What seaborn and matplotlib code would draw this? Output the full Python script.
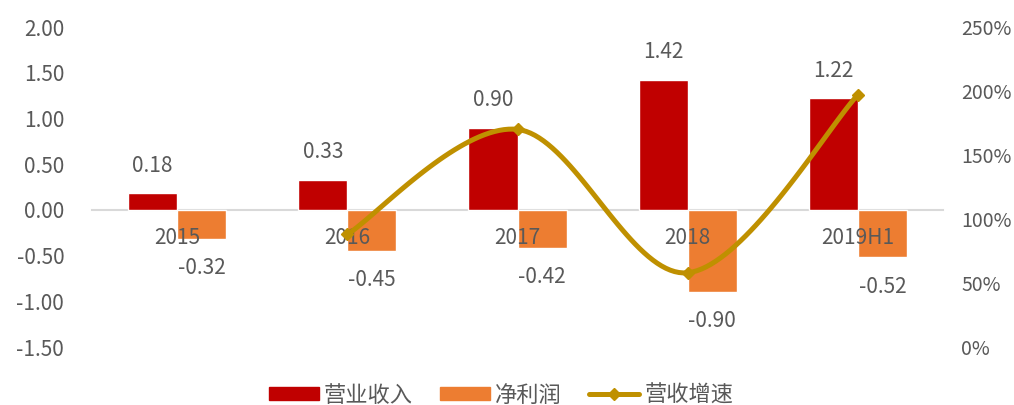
import numpy as np
import pandas as pd
import matplotlib
matplotlib.use("Agg")
import matplotlib.pyplot as plt
import seaborn as sns
from matplotlib.patches import Patch
from matplotlib.lines import Line2D

# data
years = ["2015", "2016", "2017", "2018", "2019H1"]
revenue = [0.18, 0.33, 0.90, 1.42, 1.22]        # 营业收入
profit = [-0.32, -0.45, -0.42, -0.90, -0.52]    # 净利润
growth_years = ["2016", "2017", "2018", "2019H1"]
growth = [88, 170, 58, 197]                      # 营收增速, %

RED = "#C00000"
ORANGE = "#ED7D31"
GOLD = "#BF9000"
GREY = "#595959"


def smooth(x, y, n=40):
    # excel-style smoothed line (cubic bezier, catmull-rom tangents)
    x = np.asarray(x, float)
    y = np.asarray(y, float)
    px = np.r_[x[0], x, x[-1]]
    py = np.r_[y[0], y, y[-1]]
    xs, ys = [], []
    t = np.linspace(0, 1, n)
    for i in range(1, len(px) - 2):
        p0 = np.array([px[i], py[i]])
        p3 = np.array([px[i + 1], py[i + 1]])
        p1 = p0 + (np.array([px[i + 1], py[i + 1]]) - np.array([px[i - 1], py[i - 1]])) / 6
        p2 = p3 - (np.array([px[i + 2], py[i + 2]]) - np.array([px[i], py[i]])) / 6
        b = ((1 - t) ** 3)[:, None] * p0 + (3 * (1 - t) ** 2 * t)[:, None] * p1 \
            + (3 * (1 - t) * t ** 2)[:, None] * p2 + (t ** 3)[:, None] * p3
        xs.append(b[:, 0])
        ys.append(b[:, 1])
    return np.concatenate(xs), np.concatenate(ys)


sns.set_style("white")
plt.rcParams["font.family"] = ["Noto Sans CJK SC", "DejaVu Sans"]

df = pd.DataFrame({
    "year": years * 2,
    "value": revenue + profit,
    "series": ["营业收入"] * len(years) + ["净利润"] * len(years),
})

fig = plt.figure(figsize=(10.14, 4.05), dpi=100)
ax = fig.add_axes([92 / 1014, 1 - 347 / 405, (943 - 92) / 1014, 320 / 405])

sns.barplot(data=df, x="year", y="value", hue="series", order=years,
            palette=[RED, ORANGE], width=0.576, gap=0, saturation=1,
            legend=False, ax=ax)
ax.set_xlim(-0.5, len(years) - 0.5)
ax.set_ylim(-1.5, 2.0)
ax.set_yticks(np.arange(-1.5, 2.01, 0.5))
ax.set_yticklabels([f"{v:.2f}" for v in np.arange(-1.5, 2.01, 0.5)])
ax.set_xlabel("")
ax.set_ylabel("")

for s in ["top", "right", "left"]:
    ax.spines[s].set_visible(False)
ax.spines["bottom"].set_position(("data", 0))
ax.spines["bottom"].set_color("#D9D9D9")
ax.spines["bottom"].set_linewidth(1.5)
ax.spines["bottom"].set_zorder(0.5)
ax.xaxis.set_zorder(10)
ax.tick_params(axis="x", length=0, pad=12, labelsize=15, labelcolor=GREY)
ax.tick_params(axis="y", length=0, pad=20, labelsize=15, labelcolor=GREY)

# data labels
for i, v in enumerate(revenue):
    ax.annotate(f"{v:.2f}", (i - 0.144, v), xytext=(0, 20), textcoords="offset points",
                ha="center", va="center", fontsize=15, color=GREY)
for i, v in enumerate(profit):
    ax.annotate(f"{v:.2f}", (i + 0.144, v), xytext=(0, -21), textcoords="offset points",
                ha="center", va="center", fontsize=15, color=GREY)

# growth line on secondary axis
ax2 = ax.twinx()
gx = [years.index(y) for y in growth_years]
sx, sy = smooth(gx, growth)
ax2.plot(sx, sy, color=GOLD, lw=3.6, solid_capstyle="round", zorder=3)
ax2.plot(gx, growth, linestyle="none", marker="D", markersize=6, color=GOLD, zorder=4)
ax2.set_ylim(0, 250)
ax2.set_yticks(range(0, 251, 50))
ax2.set_yticklabels([f"{v}%" for v in range(0, 251, 50)])
for s in ax2.spines.values():
    s.set_visible(False)
ax2.tick_params(axis="y", length=0, pad=13, labelsize=14, labelcolor=GREY)
ax2.grid(False)

handles = [
    Patch(color=RED, label="营业收入"),
    Patch(color=ORANGE, label="净利润"),
    Line2D([], [], color=GOLD, lw=3.6, marker="D", markersize=6, label="营收增速"),
]
fig.legend(handles=handles, loc="center", bbox_to_anchor=(0.494, 1 - 395 / 405),
           ncol=3, frameon=False, fontsize=16, labelcolor=GREY,
           handlelength=2.25, handleheight=0.5, handletextpad=0.25, columnspacing=1.2)

fig.savefig("out.png", dpi=100)
